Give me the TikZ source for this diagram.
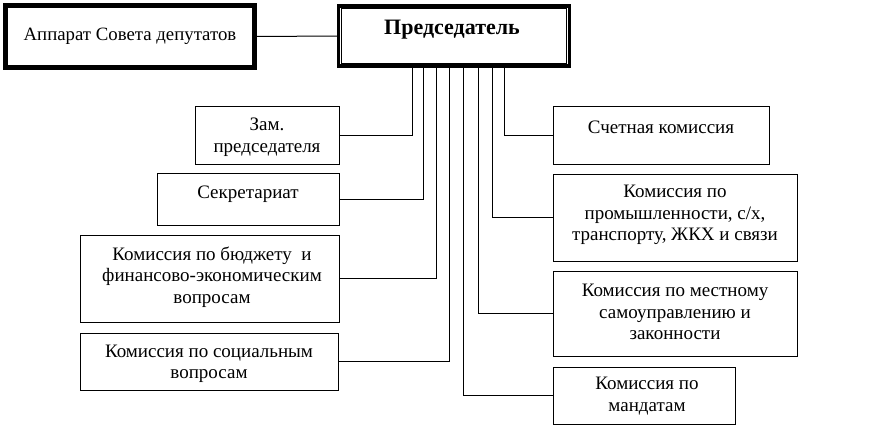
\documentclass[tikz,border=0pt]{standalone}
\usepackage{fontspec}
\setmainfont{Liberation Serif}
\begin{document}
\begin{tikzpicture}[x=1pt,y=-1pt,
  box/.style={draw,line width=1pt,inner sep=0pt},
  bigbox/.style={draw,line width=3.5pt,inner sep=0pt},
  txt/.style={inner sep=0pt,align=center,font=\fontsize{19}{21.5}\selectfont},
  conn/.style={line width=1pt}]
\useasboundingbox (0,0) rectangle (886,434);
% top boxes
\node[bigbox,minimum width=250pt,minimum height=63pt,font=\fontsize{18.8}{21.5}\selectfont] (app) at (130,36.5) {\raisebox{-1pt}{Аппарат Совета депутатов}};
\draw[line width=0.8pt] ([shift={(4.5,4.5)}]app.north west) rectangle ([shift={(-4.5,-4.5)}]app.south east);
\node[bigbox,minimum width=231pt,minimum height=60pt] (chair) at (454,36) {};
\draw[line width=0.8pt] ([shift={(4.5,4.5)}]chair.north west) rectangle ([shift={(-4.5,-4.5)}]chair.south east);
\node[inner sep=0pt,font=\fontsize{22}{24}\selectfont\bfseries] (chairt) at (452,30) {Председатель};
% left boxes
\node[box,minimum width=144pt,minimum height=58pt] (zam) at (267,135) {};
\node[txt] (zamt) at (267,137) {Зам.\\председателя};
\node[box,minimum width=182pt,minimum height=52pt] (sek) at (248,199) {};
\node[txt] (sekt) at (248,194) {Секретариат};
\node[box,minimum width=259pt,minimum height=87pt] (bud) at (209.5,278.5) {};
\node[txt] (budt) at (212,277) {Комиссия по бюджету\ \ и\\финансово-экономическим\\вопросам};
\node[box,minimum width=258pt,minimum height=57pt] (soc) at (209,361.5) {};
\node[txt] (soct) at (209,364) {Комиссия по социальным\\вопросам};
% right boxes
\node[box,minimum width=216pt,minimum height=58pt] (sch) at (661,135) {};
\node[txt] (scht) at (661,127) {Счетная комиссия};
\node[box,minimum width=244pt,minimum height=87pt] (prom) at (675,217.5) {};
\node[txt] (promt) at (675,215) {Комиссия по\\промышленности, с/х,\\транспорту, ЖКХ и связи};
\node[box,minimum width=244pt,minimum height=85pt] (mest) at (675,313.5) {};
\node[txt] (mestt) at (675,312) {Комиссия по местному\\самоуправлению и\\законности};
\node[box,minimum width=182pt,minimum height=57pt] (mand) at (644,395.5) {};
\node[txt] (mandt) at (647,396) {Комиссия по\\мандатам};
% connectors
\draw[conn] (app.east) -- (chair.west);
\draw[conn] ([xshift=-42pt]chair.south) |- (zam.east);
\draw[conn] ([xshift=-31pt]chair.south) |- (sek.east);
\draw[conn] ([xshift=-18pt]chair.south) |- (bud.east);
\draw[conn] ([xshift=-5pt]chair.south) |- (soc.east);
\draw[conn] ([xshift=9pt]chair.south) |- (mand.west);
\draw[conn] ([xshift=24pt]chair.south) |- (mest.west);
\draw[conn] ([xshift=38pt]chair.south) |- (prom.west);
\draw[conn] ([xshift=50pt]chair.south) |- (sch.west);
\end{tikzpicture}
\end{document}
